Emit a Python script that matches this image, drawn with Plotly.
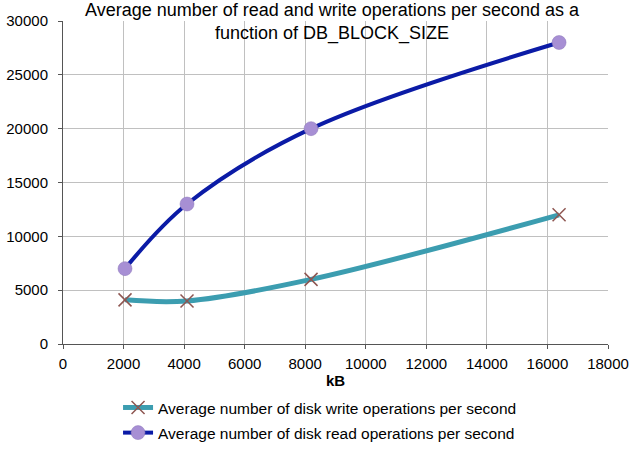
import plotly.graph_objects as go

block_kb = [2048, 4096, 8192, 16384]
write_ops = [4100, 4000, 6000, 12000]
read_ops = [7000, 13000, 20000, 28000]

x_ticks = list(range(0, 18001, 2000))
y_ticks = list(range(0, 30001, 5000))

title_text = ("Average number of read and write operations per second as a<br>"
              "function of DB_BLOCK_SIZE")

fig = go.Figure()
fig.add_trace(go.Scatter(
    x=block_kb, y=write_ops, mode="lines+markers",
    name="Average number of disk write operations per second",
    line=dict(color="#3c9db0", width=5, shape="spline", smoothing=1.0),
    marker=dict(symbol="x-thin", size=13, color="#8e5651", line=dict(width=1.5, color="#8e5651")),
    legendgroup="w",
))
fig.add_trace(go.Scatter(
    x=block_kb, y=read_ops, mode="lines+markers",
    name="Average number of disk read operations per second",
    line=dict(color="#0b1ba6", width=4, shape="spline", smoothing=1.0),
    marker=dict(symbol="circle", size=14, color="#a78fd4", line=dict(width=0.5, color="#8a74b8")),
    legendgroup="r",
))

fig.update_layout(
    width=631, height=454,
    margin=dict(l=63, r=23, t=21, b=110),
    paper_bgcolor="white", plot_bgcolor="white",
    font=dict(family="Liberation Sans, Arial, sans-serif", size=15, color="black"),
    xaxis=dict(
        range=[0, 18000], tickvals=x_ticks, ticktext=[str(v) for v in x_ticks],
        showgrid=True, gridcolor="#c0c0c0", gridwidth=1,
        showline=True, linecolor="#555555", linewidth=1,
        ticks="outside", ticklen=4, tickcolor="#555555",
        ticklabelstandoff=2,
        zeroline=False, automargin=False,
        title=dict(text="<b>kB</b>", font=dict(size=15), standoff=4),
    ),
    yaxis=dict(
        range=[0, 30000], tickvals=y_ticks, ticktext=[str(v) for v in y_ticks],
        showgrid=True, gridcolor="#c0c0c0", gridwidth=1,
        showline=True, linecolor="#555555", linewidth=1,
        ticks="outside", ticklen=4, tickcolor="#555555",
        ticklabelstandoff=7,
        zeroline=False, automargin=False,
    ),
    legend=dict(
        orientation="v", x=0.101, xanchor="left", y=0.139, yanchor="top",
        yref="container", xref="paper", traceorder="grouped", tracegroupgap=2,
        font=dict(size=15.5), bgcolor="rgba(0,0,0,0)",
    ),
    showlegend=True,
    annotations=[
        dict(text=title_text, xref="paper", yref="paper", x=0.495, y=0.997,
             xanchor="center", yanchor="middle", align="center", showarrow=False,
             font=dict(size=18, color="black")),
    ],
)

fig.write_html("out.html")
